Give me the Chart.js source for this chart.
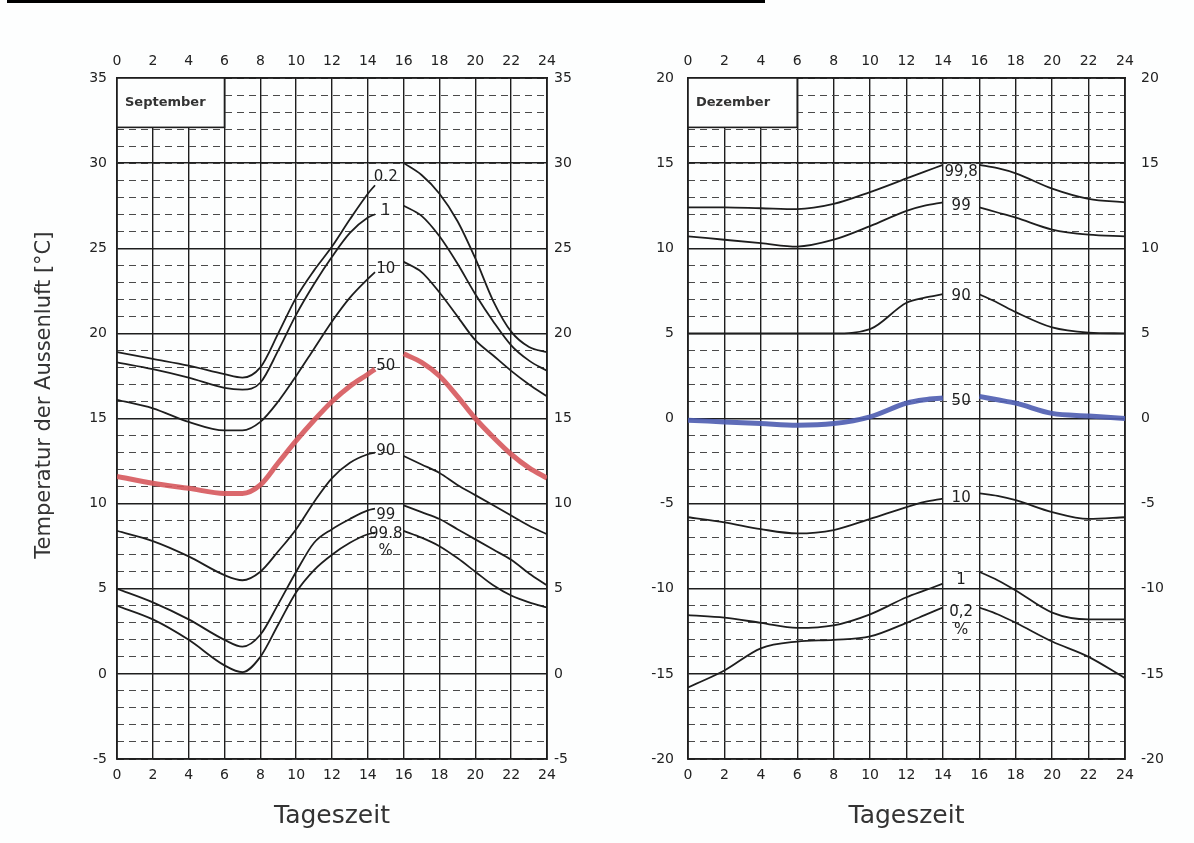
<!DOCTYPE html>
<html lang="de">
<head>
<meta charset="utf-8">
<title>Temperatur der Aussenluft</title>
<script src="https://cdn.jsdelivr.net/npm/chart.js@4.4.1/dist/chart.umd.min.js"></script>
<style>
  html, body { margin: 0; padding: 0; background: #fdfefe; }
  #topbar { position: absolute; left: 7px; top: 0; width: 758px; height: 3px; background: #000; }
  #sep { position: absolute; left: 0; top: 0; }
  #dez { position: absolute; left: 600px; top: 0; }
</style>
</head>
<body>
<div id="topbar"></div>
<canvas id="sep" width="600" height="843"></canvas>
<canvas id="dez" width="594" height="843"></canvas>
<script>
// September: hours of day, null = gap where the curve labels sit
const sepHours = [0, 2, 4, 6, 7, 8, 9, 10, 11, 12, 13, 14, 14.4, 15.2, 16, 17, 18, 19, 20, 21, 22, 23, 24];
const sepP02  = [18.9, 18.5, 18.1, 17.6, 17.4, 18.0, 20.0, 22.1, 23.7, 25.1, 26.7, 28.2, 28.7, null, 30.0, 29.3, 28.2, 26.6, 24.4, 21.9, 20.1, 19.2, 18.9];
const sepP1   = [18.3, 17.9, 17.4, 16.8, 16.7, 17.1, 19.0, 21.1, 22.9, 24.5, 25.9, 26.8, 27.0, null, 27.5, 26.9, 25.7, 24.1, 22.3, 20.7, 19.3, 18.4, 17.8];
const sepP10  = [16.1, 15.6, 14.8, 14.3, 14.3, 14.8, 16.0, 17.5, 19.1, 20.7, 22.1, 23.2, 23.6, null, 24.2, 23.6, 22.4, 21.0, 19.6, 18.7, 17.8, 17.0, 16.3];
const sepP50  = [11.6, 11.2, 10.9, 10.6, 10.6, 11.1, 12.4, 13.7, 14.9, 16.0, 16.9, 17.6, 17.9, null, 18.8, 18.3, 17.5, 16.3, 15.0, 13.9, 12.9, 12.1, 11.5];
const sepP90  = [8.4, 7.8, 6.9, 5.8, 5.5, 6.0, 7.2, 8.5, 10.1, 11.5, 12.4, 12.9, 13.0, null, 12.8, 12.3, 11.8, 11.1, 10.5, 9.9, 9.3, 8.7, 8.2];
const sepP99  = [5.0, 4.2, 3.2, 2.0, 1.6, 2.3, 4.1, 6.0, 7.7, 8.5, 9.1, 9.6, 9.7, null, 9.9, 9.5, 9.1, 8.5, 7.9, 7.3, 6.7, 5.9, 5.2];
const sepP998 = [4.0, 3.2, 2.0, 0.5, 0.1, 1.0, 2.9, 4.8, 6.1, 7.0, 7.7, 8.2, 8.3, null, 8.4, 8.0, 7.5, 6.8, 6.0, 5.2, 4.6, 4.2, 3.9];
const sepCurveNames = ['0.2', '1', '10', '50', '90', '99', '99.8', '%'];
const sepLabelTemps = [29.2, 27.2, 23.8, 18.1, 13.1, 9.3, 8.2, 7.2];

// Dezember
const decHours = [0, 2, 4, 6, 8, 10, 12, 13, 14, 15, 16, 17, 18, 20, 22, 24];
const decP998 = [12.4, 12.4, 12.35, 12.3, 12.6, 13.3, 14.1, 14.5, 14.9, null, 14.9, 14.7, 14.4, 13.5, 12.9, 12.7];
const decP99  = [10.7, 10.5, 10.3, 10.1, 10.5, 11.3, 12.2, 12.5, 12.7, null, 12.4, 12.1, 11.8, 11.1, 10.8, 10.7];
const decP90  = [5.0, 5.0, 5.0, 5.0, 5.0, 5.25, 6.8, 7.1, 7.3, null, 7.3, 6.8, 6.25, 5.35, 5.05, 5.0];
const decP50  = [-0.1, -0.2, -0.3, -0.4, -0.3, 0.1, 0.9, 1.1, 1.2, null, 1.3, 1.1, 0.9, 0.3, 0.15, 0.0];
const decP10  = [-5.8, -6.1, -6.5, -6.75, -6.55, -5.9, -5.2, -4.9, -4.7, null, -4.4, -4.55, -4.8, -5.5, -5.9, -5.8];
const decP1   = [-11.55, -11.7, -12.0, -12.3, -12.15, -11.5, -10.5, -10.1, -9.7, null, -9.0, -9.5, -10.1, -11.4, -11.8, -11.8];
const decP02  = [-15.8, -14.8, -13.5, -13.1, -13.0, -12.8, -12.0, -11.55, -11.1, null, -11.1, -11.5, -12.0, -13.1, -14.0, -15.25];
const decCurveNames = ['99,8', '99', '90', '50', '10', '1', '0,2', '%'];
const decLabelTemps = [14.5, 12.5, 7.2, 1.05, -4.7, -9.5, -11.4, -12.4];

const hourTicks = { min: 0, max: 24, step: 2 };
const INK = '#1e1e1e';
const FONT = "'DejaVu Sans', sans-serif";

function points(hours, temps) {
    return hours.map((h, i) => ({ x: h, y: temps[i] }));
}

function curve(hours, temps, color, width) {
    return {
        data: points(hours, temps),
        borderColor: color || INK,
        borderWidth: width || 1.8,
        pointRadius: 0,
        cubicInterpolationMode: 'monotone',
        spanGaps: false
    };
}

// month box in the upper left corner + the percentile labels in the gap
const curveLabels = {
    id: 'curveLabels',
    beforeDatasetsDraw(chart, args, opts) {
        const { ctx, scales: { x, y } } = chart;
        const l = x.getPixelForValue(0), r = x.getPixelForValue(opts.boxHour);
        const t = y.getPixelForValue(y.max), b = y.getPixelForValue(opts.boxTemp);
        ctx.save();
        ctx.fillStyle = '#fdfefe';
        ctx.fillRect(l, t, r - l, b - t);
        ctx.strokeStyle = INK;
        ctx.lineWidth = 1.6;
        ctx.strokeRect(l, t, r - l, b - t);
        ctx.fillStyle = '#333';
        ctx.font = '600 13px ' + FONT;
        ctx.textBaseline = 'middle';
        ctx.fillText(opts.month, l + 8, (t + b) / 2);
        ctx.restore();
    },
    afterDatasetsDraw(chart, args, opts) {
        const { ctx, scales: { x, y } } = chart;
        ctx.save();
        ctx.fillStyle = INK;
        ctx.font = '15px ' + FONT;
        ctx.textAlign = 'center';
        ctx.textBaseline = 'middle';
        opts.names.forEach((name, i) => {
            ctx.fillText(name, x.getPixelForValue(opts.labelHour), y.getPixelForValue(opts.temps[i]));
        });
        ctx.restore();
    }
};

function makeChart(id, cfg) {
    const tickFont = { family: FONT, size: 14 };
    const frame = { display: true, color: INK, width: 1.8 };
    const ctx = document.getElementById(id).getContext('2d');
    return new Chart(ctx, {
        type: 'line',
        data: { datasets: cfg.datasets },
        plugins: [curveLabels],
        options: {
            responsive: false,
            animation: false,
            layout: { padding: 0 },
            plugins: {
                legend: { display: false },
                tooltip: { enabled: false },
                curveLabels: {
                    month: cfg.month, boxHour: 6, boxTemp: cfg.boxTemp,
                    names: cfg.names, temps: cfg.labelTemps, labelHour: 15
                }
            },
            scales: {
                x: {
                    type: 'linear', position: 'bottom',
                    min: hourTicks.min, max: hourTicks.max,
                    ticks: { stepSize: hourTicks.step, padding: 8, color: '#222', font: tickFont, maxRotation: 0 },
                    grid: { color: INK, lineWidth: 1.4, drawTicks: false },
                    border: frame,
                    title: {
                        display: true, text: 'Tageszeit', color: '#333',
                        font: { family: FONT, size: 25 }, padding: { top: 0, bottom: 12 }
                    },
                    afterFit: s => { s.height = 84; }
                },
                xTop: {
                    type: 'linear', position: 'top',
                    min: hourTicks.min, max: hourTicks.max,
                    ticks: { stepSize: hourTicks.step, padding: 8, color: '#222', font: tickFont, maxRotation: 0 },
                    grid: { drawOnChartArea: false, drawTicks: false },
                    border: frame,
                    afterFit: s => { s.height = 78; }
                },
                yMinor: {
                    type: 'linear', position: 'left',
                    min: cfg.yMin, max: cfg.yMax,
                    ticks: { stepSize: 1, display: false },
                    grid: { color: '#4a4a4a', lineWidth: 1, drawTicks: false },
                    border: { display: false, dash: [7, 5] },
                    afterFit: s => { s.width = 0; }
                },
                y: {
                    type: 'linear', position: 'left',
                    min: cfg.yMin, max: cfg.yMax,
                    ticks: { stepSize: 5, padding: cfg.leftPad, color: '#222', font: tickFont },
                    grid: { color: INK, lineWidth: 1.5, drawTicks: false },
                    border: frame,
                    title: {
                        display: !!cfg.yTitle, text: cfg.yTitle || '', color: '#333',
                        font: { family: FONT, size: 21 }, padding: { top: 32, bottom: 0 }
                    },
                    afterFit: s => { s.width = cfg.leftW; }
                },
                yR: {
                    type: 'linear', position: 'right',
                    min: cfg.yMin, max: cfg.yMax,
                    ticks: { stepSize: 5, padding: cfg.rightPad, color: '#222', font: tickFont },
                    grid: { drawOnChartArea: false, drawTicks: false },
                    border: frame,
                    afterFit: s => { s.width = cfg.rightW; }
                }
            }
        }
    });
}

makeChart('sep', {
    month: 'September', boxTemp: 32.1,
    yMin: -5, yMax: 35, leftW: 117, rightW: 53, leftPad: 10, rightPad: 7,
    // leading spaces lift the rotated title a little, as in the original
    yTitle: '       Temperatur der Aussenluft [°C]',
    names: sepCurveNames, labelTemps: sepLabelTemps,
    datasets: [
        curve(sepHours, sepP02),
        curve(sepHours, sepP1),
        curve(sepHours, sepP10),
        curve(sepHours, sepP50, 'rgba(214, 88, 92, 0.9)', 5),
        curve(sepHours, sepP90),
        curve(sepHours, sepP99),
        curve(sepHours, sepP998)
    ]
});

makeChart('dez', {
    month: 'Dezember', boxTemp: 17.1,
    yMin: -20, yMax: 20, leftW: 88, rightW: 69, leftPad: 14, rightPad: 16,
    yTitle: '',
    names: decCurveNames, labelTemps: decLabelTemps,
    datasets: [
        curve(decHours, decP998),
        curve(decHours, decP99),
        curve(decHours, decP90),
        curve(decHours, decP50, 'rgba(76, 92, 176, 0.9)', 5),
        curve(decHours, decP10),
        curve(decHours, decP1),
        curve(decHours, decP02)
    ]
});
</script>
</body>
</html>
